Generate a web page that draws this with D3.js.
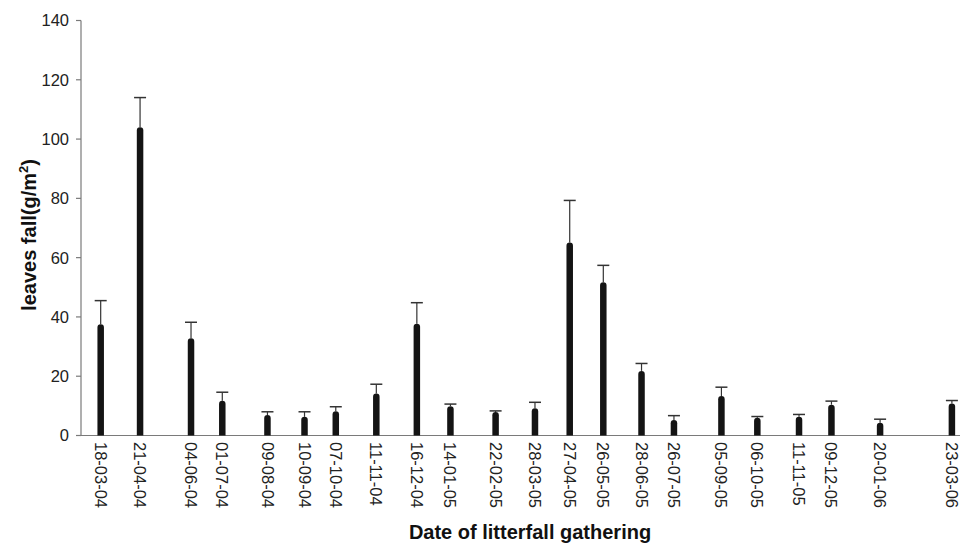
<!DOCTYPE html>
<html>
<head>
<meta charset="utf-8">
<script src="https://cdn.jsdelivr.net/npm/d3@7"></script>
<style>
  html, body { margin: 0; padding: 0; background: #fff; }
  svg { display: block; font-family: "Liberation Sans", Arial, sans-serif; }
</style>
</head>
<body>
<svg id="chart" width="960" height="544"></svg>
<script>
// ---- data ----
const dates = ["18-03-04","21-04-04","04-06-04","01-07-04","09-08-04","10-09-04","07-10-04","11-11-04","16-12-04","14-01-05","22-02-05","28-03-05","27-04-05","26-05-05","28-06-05","26-07-05","05-09-05","06-10-05","11-11-05","09-12-05","20-01-06","23-03-06"];
const leaves = [37.5, 104, 32.8, 11.7, 6.9, 6.3, 8.2, 14.2, 37.7, 9.9, 7.9, 9.2, 65.1, 51.7, 21.8, 5.2, 13.3, 6.0, 6.3, 10.4, 4.3, 10.8];
const errors = [8.0, 10.0, 5.4, 2.9, 1.1, 1.7, 1.5, 3.1, 7.1, 0.7, 0.4, 2.0, 14.2, 5.7, 2.5, 1.5, 3.0, 0.4, 0.8, 1.2, 1.2, 1.0];
const yTicks = [0, 20, 40, 60, 80, 100, 120, 140];
const xDomain = ["01-03-04", "30-03-06"];

const parse = d3.utcParse("%d-%m-%y");
const rows = dates.map((d, i) => ({ label: d, date: parse(d), v: leaves[i], e: errors[i] }));

const svg = d3.select("#chart");
const x = d3.scaleUtc().domain(xDomain.map(parse)).range([81, 960]);
const y = d3.scaleLinear().domain([0, 140]).range([435.5, 20.5]);

// axes
const axisCol = "#7a7a7a";
svg.append("line").attr("x1", 81).attr("x2", 81).attr("y1", y(140)).attr("y2", y(0))
  .attr("stroke", axisCol).attr("stroke-width", 1.2);
svg.append("line").attr("x1", 76).attr("x2", 960).attr("y1", y(0)).attr("y2", y(0))
  .attr("stroke", axisCol).attr("stroke-width", 1.2);
const yt = svg.append("g");
yt.selectAll("line").data(yTicks).join("line")
  .attr("x1", 76).attr("x2", 81).attr("y1", d => y(d)).attr("y2", d => y(d))
  .attr("stroke", axisCol).attr("stroke-width", 1.2);
yt.selectAll("text").data(yTicks).join("text")
  .attr("x", 69).attr("y", d => y(d)).attr("dy", "0.36em")
  .attr("text-anchor", "end").attr("font-size", 16.5).attr("fill", "#222")
  .text(d => d);

// error bars
const eg = svg.append("g");
eg.selectAll("line.v").data(rows).join("line").attr("class", "v")
  .attr("x1", d => x(d.date)).attr("x2", d => x(d.date))
  .attr("y1", d => y(d.v)).attr("y2", d => y(d.v + d.e))
  .attr("stroke", "#333").attr("stroke-width", 1.2);
eg.selectAll("line.c").data(rows).join("line").attr("class", "c")
  .attr("x1", d => x(d.date) - 6).attr("x2", d => x(d.date) + 6)
  .attr("y1", d => y(d.v + d.e)).attr("y2", d => y(d.v + d.e))
  .attr("stroke", "#333").attr("stroke-width", 1.5);

// bars (rounded tops)
const bw = 6.5;
svg.append("g").selectAll("path").data(rows).join("path")
  .attr("fill", "#141414")
  .attr("d", d => {
    const cx = x(d.date), top = y(d.v), base = y(0), r = bw / 2;
    return `M${cx - r},${base} L${cx - r},${top + r} A${r},${r} 0 0 1 ${cx + r},${top + r} L${cx + r},${base} Z`;
  });

// x labels
svg.append("g").selectAll("text").data(rows).join("text")
  .attr("transform", d => `translate(${x(d.date)},442) rotate(90)`)
  .attr("dy", "0.36em").attr("text-anchor", "start")
  .attr("font-size", 16.5).attr("fill", "#222")
  .text(d => d.label);

// titles
svg.append("text").attr("x", 530).attr("y", 539).attr("text-anchor", "middle")
  .attr("font-size", 20).attr("font-weight", "bold").attr("fill", "#111")
  .text("Date of litterfall gathering");
const yTitle = svg.append("text").attr("transform", "translate(36,235) rotate(-90)")
  .attr("text-anchor", "middle").attr("font-size", 20).attr("font-weight", "bold").attr("fill", "#111");
yTitle.append("tspan").text("leaves fall(g/m");
yTitle.append("tspan").attr("font-size", 13).attr("dy", -8).text("2");
yTitle.append("tspan").attr("dy", 8).text(")");
</script>
</body>
</html>
